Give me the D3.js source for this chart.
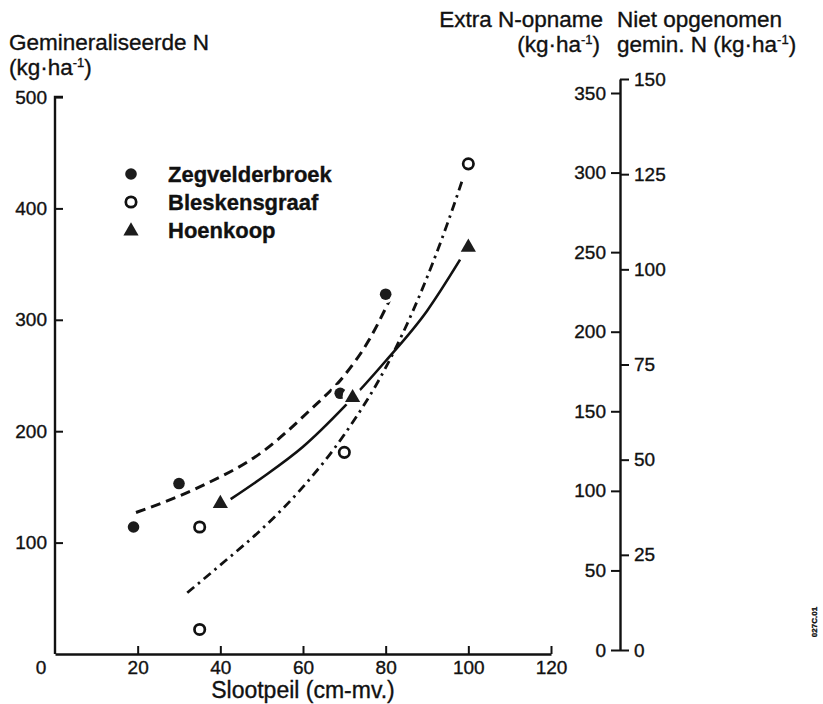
<!DOCTYPE html>
<html><head><meta charset="utf-8">
<script src="https://cdn.jsdelivr.net/npm/d3@7"></script>
<style>
body{margin:0;background:#fff}
svg{display:block}
text{font-family:"Liberation Sans",Arial,Helvetica,sans-serif;fill:#111;stroke:#111;stroke-width:0.35px}
</style>
</head><body>
<svg id="c" width="823" height="704"></svg>
<script>
// ---- data ----
const zegX = [19, 30, 69, 80];
const zegY = [114, 153, 234, 323];
const blesX = [35, 35, 70, 100];
const blesY = [114, 22, 181, 440];
const hoenX = [40, 72, 100];
const hoenY = [136, 231, 366];

// fitted curves as drawn
const zegCurveX = [19.6, 35, 50, 62, 70, 76, 81];
const zegCurveY = [127, 150, 181, 220, 250, 282, 318];
const hoenCurveX = [42.5, 50, 60, 70, 80, 90, 98];
const hoenCurveY = [139, 158, 186, 222, 263, 308, 354];
const blesCurveX = [32, 41, 50, 60, 70, 80, 88, 95, 98.7];
const blesCurveY = [55, 83, 112, 150, 197, 257, 320, 387, 427];

const xTicks = [20, 40, 60, 80, 100, 120];
const yTicks = [100, 200, 300, 400, 500];
const extraTicks = [0, 50, 100, 150, 200, 250, 300, 350];
const nietTicks = [0, 25, 50, 75, 100, 125, 150];
const legendNames = ["Zegvelderbroek", "Bleskensgraaf", "Hoenkoop"];

// ---- scales ----
const svg = d3.select("#c");
const x = d3.scaleLinear().domain([0, 120]).range([55, 551]);
const y = d3.scaleLinear().domain([0, 500]).range([654, 97]);
const yExtra = d3.scaleLinear().domain([0, 350]).range([650, 93]);
const yNiet = d3.scaleLinear().domain([0, 150]).range([650, 79]);
const rightX = 620;
const TF = 19;

function styleAxis(g, fs) {
  g.selectAll("path.domain").attr("stroke", "#111").attr("stroke-width", 2.4);
  g.selectAll(".tick line").attr("stroke", "#111").attr("stroke-width", 2);
  g.selectAll(".tick text").attr("font-size", fs).attr("fill", "#111")
    .attr("font-family", "'Liberation Sans',Arial,sans-serif");
}

// left axis
const gl = svg.append("g").attr("transform", `translate(${x(0)},0)`)
  .call(d3.axisLeft(y).tickValues(yTicks).tickSizeInner(-8).tickSizeOuter(0).tickPadding(8).tickFormat(d3.format("d")));
styleAxis(gl, TF);
gl.select("path.domain").attr("d", `M0,${y(0)}V${y(500)}h8`);

// bottom axis
const gb = svg.append("g").attr("transform", `translate(0,${y(0)})`)
  .call(d3.axisBottom(x).tickValues(xTicks).tickSizeInner(-8).tickSizeOuter(0).tickPadding(7).tickFormat(d3.format("d")));
styleAxis(gb, TF);
svg.append("text").attr("x", x(0) - 14).attr("y", y(0) + 7).attr("dy", "0.71em")
  .attr("text-anchor", "middle").attr("font-size", TF).text("0");

// right axes
const ge = svg.append("g").attr("transform", `translate(${rightX},0)`)
  .call(d3.axisLeft(yExtra).tickValues(extraTicks).tickSize(9).tickPadding(5).tickFormat(d3.format("d")));
styleAxis(ge, TF);
ge.select("path.domain").remove();
const gn = svg.append("g").attr("transform", `translate(${rightX},0)`)
  .call(d3.axisRight(yNiet).tickValues(nietTicks).tickSize(9).tickSizeOuter(0).tickPadding(5).tickFormat(d3.format("d")));
styleAxis(gn, TF);

// titles
function title(xp, yp, anchor, parts) {
  const t = svg.append("text").attr("x", xp).attr("y", yp).attr("text-anchor", anchor).attr("font-size", 22.5);
  parts.forEach(p => {
    const s = t.append("tspan").text(p[0]);
    if (p[1]) s.attr("font-size", 13).attr("dy", -8);
    if (p[2]) s.attr("dy", 8);
  });
}
title(9, 49.5, "start", [["Gemineraliseerde N"]]);
title(9, 75, "start", [["(kg·ha"], ["-1", true], [")", false, true]]);
title(603, 26.5, "end", [["Extra N-opname"]]);
title(600, 52, "end", [["(kg·ha"], ["-1", true], [")", false, true]]);
title(617, 26.5, "start", [["Niet opgenomen"]]);
title(617, 52, "start", [["gemin. N (kg·ha"], ["-1", true], [")", false, true]]);

svg.append("text").attr("x", (x(0) + x(120)) / 2).attr("y", 698).attr("text-anchor", "middle")
  .attr("font-size", 23).text("Slootpeil (cm-mv.)");

// small rotated code
svg.append("text").attr("transform", "translate(817,622) rotate(-90)").attr("text-anchor", "middle")
  .attr("font-size", 8).attr("font-weight", "bold").text("027C.01");

// ---- curves ----
const line = d3.line().x(d => x(d[0])).y(d => y(d[1])).curve(d3.curveMonotoneX);
svg.append("path").datum(d3.zip(zegCurveX, zegCurveY)).attr("d", line)
  .attr("fill", "none").attr("stroke", "#111").attr("stroke-width", 3).attr("stroke-dasharray", "10,6");
svg.append("path").datum(d3.zip(hoenCurveX, hoenCurveY)).attr("d", line)
  .attr("fill", "none").attr("stroke", "#111").attr("stroke-width", 2.6);
svg.append("path").datum(d3.zip(blesCurveX, blesCurveY)).attr("d", line)
  .attr("fill", "none").attr("stroke", "#111").attr("stroke-width", 2.8).attr("stroke-dasharray", "9,5,2.5,5");

// ---- markers ----
const tri = d3.symbol().type(d3.symbolTriangle).size(100);
function drawFilled(g, cx, cy) {
  g.append("circle").attr("cx", cx).attr("cy", cy).attr("r", 9).attr("fill", "#fff");
  g.append("circle").attr("cx", cx).attr("cy", cy).attr("r", 5.8).attr("fill", "#1c1c1c");
}
function drawHollow(g, cx, cy) {
  g.append("circle").attr("cx", cx).attr("cy", cy).attr("r", 9).attr("fill", "#fff");
  g.append("circle").attr("cx", cx).attr("cy", cy).attr("r", 5.2).attr("fill", "#fff").attr("stroke", "#111").attr("stroke-width", 2.7);
}
function drawTri(g, cx, cy) {
  g.append("circle").attr("cx", cx).attr("cy", cy).attr("r", 10).attr("fill", "#fff");
  g.append("path").attr("d", tri).attr("transform", `translate(${cx},${cy + 1})`).attr("fill", "#1c1c1c");
}
const gm = svg.append("g");
zegX.forEach((v, i) => drawFilled(gm, x(v), y(zegY[i])));
blesX.forEach((v, i) => drawHollow(gm, x(v), y(blesY[i])));
hoenX.forEach((v, i) => drawTri(gm, x(v), y(hoenY[i])));

// ---- legend ----
const lg = svg.append("g");
const drawers = [drawFilled, drawHollow, drawTri];
legendNames.forEach((n, i) => {
  const cy = 174 + i * 28;
  drawers[i](lg, 131, cy);
  lg.append("text").attr("x", 168).attr("y", cy + 8).attr("font-size", 22)
    .attr("font-family", "'Open Sans',sans-serif").attr("font-weight", 600)
    .attr("stroke-width", 0).text(n);
});
</script>
</body></html>
